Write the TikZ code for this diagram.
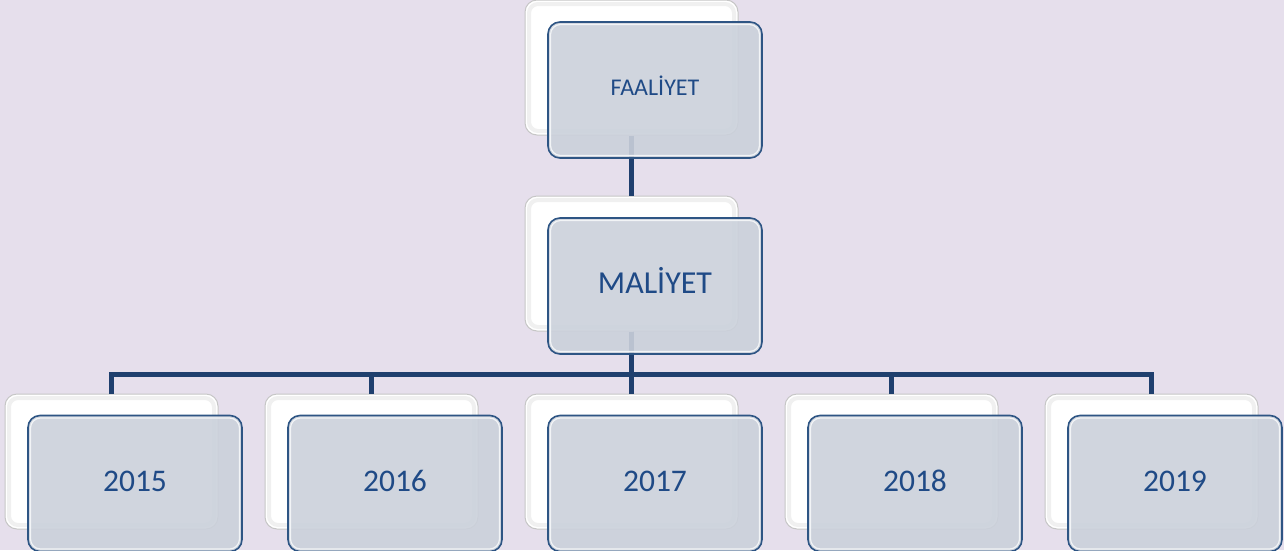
\documentclass[tikz,border=0pt]{standalone}
\usepackage{fontspec}
\setmainfont{Carlito}
\usetikzlibrary{positioning}
\definecolor{bgcol}{HTML}{E6DFEC}
\definecolor{boxfill}{HTML}{CBD1DB}
\definecolor{boxline}{HTML}{2E5584}
\definecolor{linkblue}{HTML}{1F3F6E}
\definecolor{txtblue}{HTML}{1F4A86}

\begin{document}
\begin{tikzpicture}[x=1pt, y=1pt,
  back/.style={draw=gray!45, line width=1pt, fill=white,
               rounded corners=12pt, minimum width=213pt, minimum height=135pt, inner sep=0pt,
               path picture={\draw[gray!12, line width=4pt, rounded corners=9pt]
                  ([shift={(4pt,-4pt)}]path picture bounding box.north west) rectangle
                  ([shift={(-4pt,4pt)}]path picture bounding box.south east);}},
  front/.style={draw=boxline, line width=1.6pt, fill=boxfill, fill opacity=.9,
                text opacity=1, text=txtblue, rounded corners=12pt,
                minimum width=214pt, minimum height=136pt, inner sep=0pt,
                text height=20pt, text depth=5pt, font=\fontsize{31.5}{32}\selectfont,
                path picture={\draw[white!75!boxfill, line width=1.2pt, rounded corners=10pt]
                  ([shift={(2.5pt,-2.5pt)}]path picture bounding box.north west) rectangle
                  ([shift={(-2.5pt,2.5pt)}]path picture bounding box.south east);}},
  link/.style={draw=linkblue, line width=4.5pt}]
\fill[bgcol] (0,0) rectangle (1284,-550);
\useasboundingbox (0,0) rectangle (1284,-550);

% back cards
\node[back] (fa-back) at (631.5,-67.5) {};
\node[back, below=60pt of fa-back] (ma-back) {};
\node[back, below=62pt of ma-back] (y17-back) {};
\node[back, left=46pt of y17-back] (y16-back) {};
\node[back, left=46pt of y16-back] (y15-back) {};
\node[back, right=46pt of y17-back] (y18-back) {};
\node[back, right=46pt of y18-back] (y19-back) {};

% connectors
\draw[link] (fa-back.south) -- (ma-back.north);
\draw[link] (ma-back.south) -- ++(0,-43) -| (y15-back.north);
\draw[link] (ma-back.south) -- ++(0,-43) -| (y16-back.north);
\draw[link] (ma-back.south) -- (y17-back.north);
\draw[link] (ma-back.south) -- ++(0,-43) -| (y18-back.north);
\draw[link] (ma-back.south) -- ++(0,-43) -| (y19-back.north);

% front cards
\node[front, text height=15pt, text depth=4.5pt, font=\fontsize{24}{24}\selectfont]
  (fa) at ([shift={(23.5,-22.5)}]fa-back) {FAALİYET};
\node[front, font=\fontsize{32}{32}\selectfont] (ma) at ([shift={(23.5,-22.5)}]ma-back) {MALİYET};
\node[front] (y15) at ([shift={(23.5,-22)}]y15-back) {2015};
\node[front] (y16) at ([shift={(23.5,-22)}]y16-back) {2016};
\node[front] (y17) at ([shift={(23.5,-22)}]y17-back) {2017};
\node[front] (y18) at ([shift={(23.5,-22)}]y18-back) {2018};
\node[front] (y19) at ([shift={(23.5,-22)}]y19-back) {2019};
\end{tikzpicture}
\end{document}
